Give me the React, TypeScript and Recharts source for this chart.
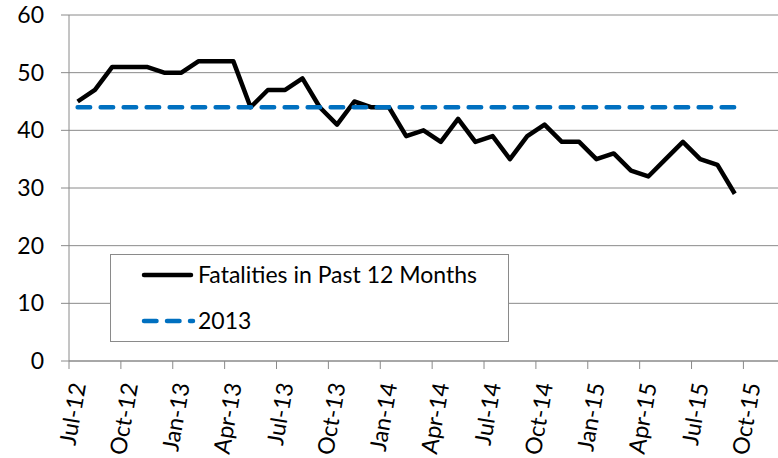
import { CartesianGrid, Legend, Line, LineChart, XAxis, YAxis } from 'recharts'

const MONTHS = [
  'Jul-12', 'Aug-12', 'Sep-12', 'Oct-12', 'Nov-12', 'Dec-12',
  'Jan-13', 'Feb-13', 'Mar-13', 'Apr-13', 'May-13', 'Jun-13',
  'Jul-13', 'Aug-13', 'Sep-13', 'Oct-13', 'Nov-13', 'Dec-13',
  'Jan-14', 'Feb-14', 'Mar-14', 'Apr-14', 'May-14', 'Jun-14',
  'Jul-14', 'Aug-14', 'Sep-14', 'Oct-14', 'Nov-14', 'Dec-14',
  'Jan-15', 'Feb-15', 'Mar-15', 'Apr-15', 'May-15', 'Jun-15',
  'Jul-15', 'Aug-15', 'Sep-15',
]

const FATALITIES = [
  45, 47, 51, 51, 51, 50, 50, 52, 52, 52, 44, 47,
  47, 49, 44, 41, 45, 44, 44, 39, 40, 38, 42, 38,
  39, 35, 39, 41, 38, 38, 35, 36, 33, 32, 35, 38,
  35, 34, 29,
]

const BASELINE_2013 = 44

// tick labels every third month, axis runs Jul-12 .. Nov-15 (41 month slots)
const TICK_LABELS = [
  'Jul-12', 'Oct-12', 'Jan-13', 'Apr-13', 'Jul-13', 'Oct-13', 'Jan-14',
  'Apr-14', 'Jul-14', 'Oct-14', 'Jan-15', 'Apr-15', 'Jul-15', 'Oct-15',
]
const MONTH_SLOTS = 41
const Y_TICKS = [0, 10, 20, 30, 40, 50, 60]

const FONT = 'Lato, "Open Sans", sans-serif'
const AXIS_GRAY = '#8a8a8a'
const BLUE = '#0070C0'

const data = MONTHS.map((month, i) => ({
  month,
  x: i + 0.5, // points sit in the middle of each month slot
  fatalities: FATALITIES[i],
  y2013: BASELINE_2013,
}))

const xTicks = TICK_LABELS.map((_, i) => i * 3)

function XTick({ x, y, payload }: any) {
  const label = TICK_LABELS[payload.value / 3]
  const ax = x + 9
  return (
    <text
      x={ax}
      y={y}
      transform={`rotate(-80, ${ax}, ${y})`}
      textAnchor="end"
      dy="0.36em"
      fontFamily={FONT}
      fontSize={23}
      fill="#000"
    >
      {label}
    </text>
  )
}

function LegendBox() {
  return (
    <svg width={399} height={88} style={{ display: 'block' }}>
      <rect x={0.5} y={0.5} width={398} height={87} fill="#fff" stroke={AXIS_GRAY} />
      <line x1={34} y1={21} x2={81} y2={21} stroke="#000" strokeWidth={4.5} strokeLinecap="round" />
      <text x={88} y={29} fontFamily={FONT} fontSize={23} fill="#000">
        Fatalities in Past 12 Months
      </text>
      <line
        x1={34}
        y1={67}
        x2={83}
        y2={67}
        stroke={BLUE}
        strokeWidth={4.5}
        strokeDasharray="12.5 10.5"
        strokeLinecap="round"
      />
      <text x={88} y={75} fontFamily={FONT} fontSize={23} fill="#000">
        2013
      </text>
    </svg>
  )
}

export default function App() {
  return (
    <div style={{ position: 'absolute', left: 0, top: 0, width: 778, height: 458, background: '#fff' }}>
      <LineChart width={778} height={458} data={data} margin={{ top: 15, right: 0, bottom: 0, left: 0 }}>
        <CartesianGrid vertical={false} stroke={AXIS_GRAY} />
        <XAxis
          dataKey="x"
          type="number"
          domain={[0, MONTH_SLOTS]}
          ticks={xTicks}
          interval={0}
          height={97}
          tickSize={8}
          tickMargin={14}
          stroke={AXIS_GRAY}
          tick={<XTick />}
        />
        <YAxis
          domain={[0, 60]}
          ticks={Y_TICKS}
          width={69}
          tickSize={8}
          tickMargin={17}
          stroke={AXIS_GRAY}
          tick={{ fill: '#000', fontSize: 23, fontFamily: FONT }}
        />
        <Legend
          layout="vertical"
          align="center"
          verticalAlign="middle"
          wrapperStyle={{ left: 110, top: 254, width: 399, height: 88 }}
          content={() => <LegendBox />}
        />
        <Line
          dataKey="fatalities"
          stroke="#000"
          strokeWidth={4.5}
          strokeLinejoin="round"
          dot={false}
          activeDot={false}
          isAnimationActive={false}
        />
        <Line
          dataKey="y2013"
          stroke={BLUE}
          strokeWidth={4.5}
          strokeDasharray="12.5 10.5"
          strokeLinecap="round"
          dot={false}
          activeDot={false}
          isAnimationActive={false}
        />
      </LineChart>
    </div>
  )
}
